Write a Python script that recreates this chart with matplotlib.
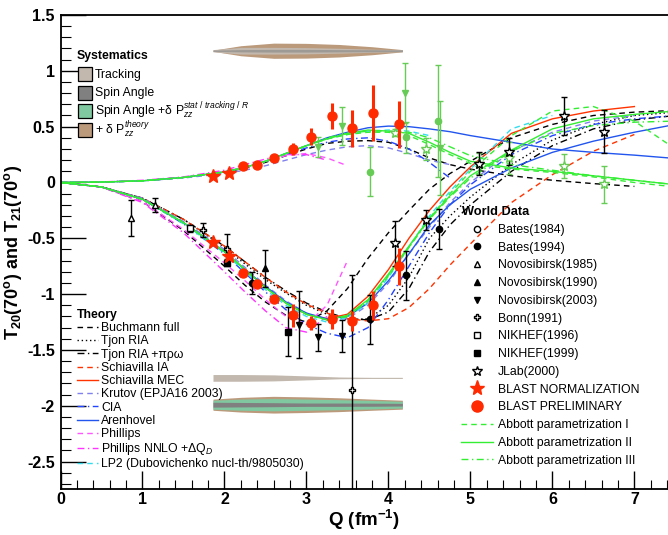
import matplotlib.pyplot as plt
import numpy as np
from matplotlib.lines import Line2D
from matplotlib.patches import Rectangle

plt.rcParams['font.family'] = 'Liberation Sans'
plt.rcParams['mathtext.fontset'] = 'custom'
plt.rcParams['mathtext.rm'] = 'Liberation Sans'
plt.rcParams['mathtext.it'] = 'Liberation Sans:italic'
plt.rcParams['mathtext.bf'] = 'Liberation Sans:bold'

nan = np.nan

# theory curves on a common Q grid
q_th = [0, 0.5, 1, 1.5, 2, 2.25, 2.5, 2.75, 3, 3.25, 3.5, 3.75, 4, 4.25, 4.5, 4.75, 5, 5.5, 6, 6.5, 7, 7.5]

buchmann_t20 = [0, -0.04, -0.17, -0.43, -0.75, -0.92, -1.07, -1.19, -1.25, -1.15, -0.95, -0.68, -0.45, -0.25, -0.06, 0.08, 0.19, 0.4, 0.52, 0.6, 0.63, 0.645]
tjon_t20 = [0, -0.04, -0.14, -0.33, -0.58, -0.73, -0.87, -0.99, -1.1, -1.18, -1.23, -1.22, -1.1, -0.85, -0.5, -0.3, -0.13, 0.16, 0.38, 0.52, 0.6, 0.63]
tjon_pro_t20 = [0, -0.04, -0.14, -0.33, -0.57, -0.71, -0.85, -0.97, -1.08, -1.16, -1.22, -1.23, -1.16, -0.95, -0.62, -0.38, -0.2, 0.1, 0.33, 0.48, 0.56, 0.6]
schiav_ia_t20 = [0, -0.04, -0.14, -0.33, -0.57, -0.71, -0.85, -0.98, -1.09, -1.17, -1.22, -1.24, -1.22, -1.12, -0.95, -0.74, -0.55, -0.18, 0.07, 0.28, 0.43, nan]
schiav_mec_t20 = [0, -0.04, -0.15, -0.36, -0.62, -0.78, -0.94, -1.08, -1.18, -1.22, -1.18, -1.02, -0.78, -0.5, -0.25, -0.04, 0.14, 0.44, 0.57, 0.64, 0.68, nan]
krutov_t20 = [0, -0.04, -0.14, -0.35, -0.6, -0.76, -0.92, -1.06, -1.17, -1.23, -1.22, -1.1, -0.9, -0.64, -0.4, -0.18, 0.0, 0.28, 0.45, 0.55, 0.6, nan]
cia_t20 = [0, -0.04, -0.15, -0.37, -0.64, -0.81, -0.98, -1.14, -1.27, -1.35, -1.39, -1.3, -1.05, -0.75, -0.45, -0.2, -0.02, 0.25, 0.42, 0.52, 0.57, 0.6]
arenhovel_t20 = [0, -0.04, -0.15, -0.36, -0.62, -0.78, -0.93, -1.07, -1.17, -1.22, -1.2, -1.08, -0.88, -0.64, -0.38, -0.2, -0.06, 0.13, 0.27, 0.37, 0.45, 0.52]
phillips_t20 = [0, -0.04, -0.17, -0.42, -0.72, -0.88, -1.05, -1.2, -1.27, -1.1, -0.7, nan, nan, nan, nan, nan, nan, nan, nan, nan, nan, nan]
phillips_nnlo_t20 = [0, -0.04, -0.18, -0.45, -0.8, -0.98, -1.15, -1.3, -1.34, -1.2, nan, nan, nan, nan, nan, nan, nan, nan, nan, nan, nan, nan]
lp2_t20 = [0, -0.04, -0.15, -0.37, -0.63, -0.8, -0.96, -1.1, -1.2, -1.25, -1.21, -1.08, -0.85, -0.58, -0.3, -0.08, 0.12, 0.48, 0.6, nan, nan, nan]
abbott1_t20 = [0, -0.04, -0.15, -0.36, -0.62, -0.78, -0.94, -1.08, -1.18, -1.23, -1.2, -1.06, -0.84, -0.58, -0.32, -0.1, 0.1, 0.42, 0.64, 0.68, 0.55, 0.3]
abbott2_t20 = [0, -0.04, -0.15, -0.36, -0.62, -0.78, -0.94, -1.08, -1.18, -1.23, -1.19, -1.05, -0.82, -0.57, -0.32, -0.12, 0.06, 0.29, 0.48, 0.57, 0.61, 0.64]
abbott3_t20 = [0, -0.04, -0.15, -0.36, -0.62, -0.78, -0.94, -1.08, -1.18, -1.23, -1.2, -1.06, -0.83, -0.58, -0.33, -0.13, 0.04, 0.28, 0.44, 0.51, 0.54, 0.55]

buchmann_t21 = [0, 0.004, 0.015, 0.045, 0.09, 0.13, 0.18, 0.24, 0.3, 0.35, 0.37, 0.375, 0.36, 0.3, 0.22, 0.16, 0.12, 0.06, 0.02, -0.01, -0.035, nan]
krutov_t21 = [0, 0.004, 0.015, 0.04, 0.08, 0.11, 0.15, 0.2, 0.25, 0.29, 0.32, 0.33, 0.31, 0.26, 0.2, 0.16, nan, nan, nan, nan, nan, nan]
cia_t21 = [0, 0.004, 0.015, 0.045, 0.095, 0.135, 0.19, 0.25, 0.31, 0.36, 0.39, 0.4, 0.37, 0.3, 0.18, 0.04, nan, nan, nan, nan, nan, nan]
arenhovel_t21 = [0, 0.004, 0.015, 0.045, 0.095, 0.135, 0.19, 0.26, 0.33, 0.4, 0.45, 0.49, 0.505, 0.5, 0.48, 0.455, 0.42, 0.36, 0.3, 0.27, 0.245, 0.215]
phillips_t21 = [0, 0.004, 0.015, 0.045, 0.095, 0.14, 0.19, 0.24, 0.26, 0.22, 0.15, nan, nan, nan, nan, nan, nan, nan, nan, nan, nan, nan]
phillips_nnlo_t21 = [0, 0.005, 0.02, 0.05, 0.11, 0.16, 0.21, 0.25, 0.25, 0.2, nan, nan, nan, nan, nan, nan, nan, nan, nan, nan, nan, nan]
lp2_t21 = [0, 0.004, 0.015, 0.045, 0.095, 0.135, 0.19, 0.26, 0.33, 0.39, 0.43, 0.46, 0.47, 0.46, 0.42, nan, nan, nan, nan, nan, nan, nan]
abbott1_t21 = [0, 0.004, 0.015, 0.045, 0.095, 0.135, 0.19, 0.26, 0.33, 0.39, 0.43, 0.45, 0.45, 0.42, 0.34, 0.25, 0.17, 0.12, 0.09, 0.05, 0.0, -0.04]
abbott2_t21 = [0, 0.004, 0.015, 0.045, 0.095, 0.135, 0.19, 0.26, 0.33, 0.39, 0.44, 0.47, 0.46, 0.44, 0.36, 0.27, 0.19, 0.13, 0.1, 0.06, 0.02, -0.02]
abbott3_t21 = [0, 0.004, 0.015, 0.045, 0.095, 0.135, 0.19, 0.26, 0.33, 0.4, 0.44, 0.46, 0.46, 0.45, 0.4, 0.32, 0.24, 0.16, 0.11, 0.06, 0.02, -0.02]

# BLAST data
blast_q = [2.22, 2.40, 2.60, 2.83, 3.06, 3.31, 3.55, 3.81, 4.13]
blast_t20 = [-0.81, -0.91, -1.04, -1.19, -1.26, -1.22, -1.24, -1.10, -0.75]
blast_t20_err = [0.02, 0.02, 0.03, 0.1, 0.06, 0.09, 0.09, 0.13, 0.165]
blast_t21 = [0.148, 0.154, 0.217, 0.30, 0.41, 0.595, 0.485, 0.62, 0.52]
blast_t21_err = [0.02, 0.02, 0.03, 0.05, 0.075, 0.115, 0.165, 0.25, 0.21]
norm_q = [1.86, 2.05]
norm_t20 = [-0.535, -0.658]
norm_t21 = [0.058, 0.088]

# world data, T20 (black)
nov85_q, nov85_t20, nov85_err = [0.86, 1.15], [-0.315, -0.2], [0.16, 0.06]
nik96_q, nik96_t20, nik96_err = [1.58], [-0.41], [0.03]
bonn_q, bonn_t20, bonn_err = [1.74, 2.03, 3.56], [-0.425, -0.595, -1.86], [0.06, 0.13, 1.03]
nik99_q, nik99_t20, nik99_err = [2.03, 2.78], [-0.718, -1.335], [0.03, 0.22]
bates94_q, bates94_t20, bates94_err = [2.33, 3.77, 4.21, 4.62], [-0.9, -1.225, -0.83, -0.42], [0.1, 0.22, 0.22, 0.18]
nov90_q, nov90_t20, nov90_err = [2.49], [-0.768], [0.165]
nov03_q, nov03_t20, nov03_err = [2.91, 3.14, 3.43], [-1.276, -1.386, -1.374], [0.3, 0.12, 0.14]
jlab_q, jlab_t20, jlab_err = [4.08, 4.46, 5.1, 5.47, 6.14, 6.63], [-0.545, -0.336, 0.17, 0.276, 0.595, 0.455], [0.2, 0.09, 0.1, 0.12, 0.17, 0.19]

# world data, T21 (green)
nov03_t21_q, nov03_t21, nov03_t21_err = [3.14, 3.43, 4.2, 4.63], [0.32, 0.51, 0.8, 0.31], [0.09, 0.17, 0.27, 0.42]
bates94_t21_q, bates94_t21, bates94_t21_err = [3.77, 4.21, 4.61], [0.097, 0.405, 0.55], [0.22, 0.14, 0.5]
jlab_t21_q, jlab_t21, jlab_t21_err = [4.08, 4.46, 5.1, 5.47, 6.14, 6.63], [0.446, 0.30, 0.17, 0.22, 0.148, -0.016], [0.03, 0.1, 0.09, 0.14, 0.11, 0.165]

# systematic error bands
band_q = [1.86, 2.2, 2.6, 3.0, 3.4, 3.8, 4.17]
top_theory = [0.005, 0.045, 0.068, 0.066, 0.056, 0.036, 0.01]
top_tracking = [0.01, 0.03, 0.03, 0.028, 0.022, 0.014, 0.009]
top_spin = [0.006, 0.01, 0.012, 0.012, 0.01, 0.009, 0.007]
trk_low = [0.03, 0.03, 0.027, 0.018, 0.008, 0.005, 0.005]
low_theory = [0.05, 0.066, 0.075, 0.07, 0.062, 0.05, 0.04]
low_green = [0.04, 0.05, 0.055, 0.05, 0.045, 0.038, 0.03]
low_spin = [0.022, 0.02, 0.018, 0.015, 0.015, 0.014, 0.012]

sys_labels = ['Tracking', 'Spin Angle',
              'Spin Angle +δ P$_{zz}^{stat\\ /\\ tracking\\ /\\ R}$',
              '+ δ P$_{zz}^{theory}$']

c_red = '#ff2a00'
c_green = '#33ee33'
c_gdata = '#66cc55'
c_trk = '#c2b8ad'
c_spin = '#808080'
c_sgreen = '#80c8a0'
c_theory = '#bb9a7c'
sys_colors = [c_trk, c_spin, c_sgreen, c_theory]

W, H = 668, 535
fig = plt.figure(figsize=(W / 100, H / 100), dpi=100)
ax = fig.add_axes([60.5 / W, 1 - 489 / H, 1 - 60.5 / W, 474 / H])

dash = (0, (4, 3))
dot = (0, (1, 2))
dashdot = (0, (5, 2.5, 1, 2.5))
theory = [
    ('Buchmann full', buchmann_t20, buchmann_t21, 'black', dash),
    ('Tjon RIA', tjon_t20, None, 'black', dot),
    ('Tjon RIA +πρω', tjon_pro_t20, None, 'black', dashdot),
    ('Schiavilla IA', schiav_ia_t20, None, '#ff3300', dash),
    ('Schiavilla MEC', schiav_mec_t20, None, '#ff3300', '-'),
    ('Krutov (EPJA16 2003)', krutov_t20, krutov_t21, '#8080ee', dash),
    ('CIA', cia_t20, cia_t21, '#2244ff', dashdot),
    ('Arenhovel', arenhovel_t20, arenhovel_t21, '#2255ee', '-'),
    ('Phillips', phillips_t20, phillips_t21, '#ff55ff', dash),
    ('Phillips NNLO +ΔQ$_{D}$', phillips_nnlo_t20, phillips_nnlo_t21, '#ff33ff', dashdot),
    ('LP2 (Dubovichenko nucl-th/9805030)', lp2_t20, lp2_t21, '#33ddee', dash),
]
theory_handles = []
for label, y20, y21, col, ls in theory:
    h, = ax.plot(q_th, y20, color=col, ls=ls, lw=1.0, label=label)
    theory_handles.append(h)
    if y21 is not None:
        ax.plot(q_th, y21, color=col, ls=ls, lw=1.0)

abbott_handles = []
for label, y20, y21, ls in [('Abbott parametrization I', abbott1_t20, abbott1_t21, dash),
                            ('Abbott parametrization II', abbott2_t20, abbott2_t21, '-'),
                            ('Abbott parametrization III', abbott3_t20, abbott3_t21, dashdot)]:
    h, = ax.plot(q_th, y20, color=c_green, ls=ls, lw=1.0, label=label)
    ax.plot(q_th, y21, color=c_green, ls=ls, lw=1.0)
    abbott_handles.append(h)

# systematics bands
bq = np.array(band_q)
ax.fill_between(bq, 1.18 - np.array(top_theory), 1.18 + np.array(top_theory), color=c_theory, lw=0)
ax.fill_between(bq, 1.18 - np.array(top_tracking), 1.18 + np.array(top_tracking), color=c_trk, lw=0)
ax.fill_between(bq, 1.18 - np.array(top_spin), 1.18 + np.array(top_spin), color=c_spin, lw=0, alpha=0.55)
ax.fill_between(bq, -1.75 - np.array(trk_low), -1.75 + np.array(trk_low), color=c_trk, lw=0)
ax.fill_between(bq, -1.99 - np.array(low_theory), -1.99 + np.array(low_theory), color=c_theory, lw=0)
ax.fill_between(bq, -1.99 - np.array(low_green), -1.99 + np.array(low_green), color=c_sgreen, lw=0)
ax.fill_between(bq, -1.99 - np.array(low_spin), -1.99 + np.array(low_spin), color=c_spin, lw=0)

# world data
def world(q, y, e, marker, color, fill, ms=4.5):
    ax.errorbar(q, y, yerr=e, fmt=marker, color=color, mfc=color if fill else 'white',
                mec=color, ms=ms, elinewidth=1.0, capsize=2, capthick=1.0, zorder=4)

world(nov03_t21_q, nov03_t21, nov03_t21_err, 'v', c_gdata, True)
world(bates94_t21_q, bates94_t21, bates94_t21_err, 'o', c_gdata, True)
world(jlab_t21_q, jlab_t21, jlab_t21_err, '*', c_gdata, False, 7)

world(nov85_q, nov85_t20, nov85_err, '^', 'black', False)
world(nik96_q, nik96_t20, nik96_err, 's', 'black', False)
world(bonn_q, bonn_t20, bonn_err, 'P', 'black', False, 5)
world(nik99_q, nik99_t20, nik99_err, 's', 'black', True)
world(bates94_q, bates94_t20, bates94_err, 'o', 'black', True)
world(nov90_q, nov90_t20, nov90_err, '^', 'black', True)
world(nov03_q, nov03_t20, nov03_err, 'v', 'black', True)
world(jlab_q, jlab_t20, jlab_err, '*', 'black', False, 7)

# BLAST
ax.errorbar(blast_q, blast_t21, yerr=blast_t21_err, fmt='o', color=c_red, ms=6.5, elinewidth=2.2, capsize=0, zorder=5)
ax.errorbar(blast_q, blast_t20, yerr=blast_t20_err, fmt='o', color=c_red, ms=6.5, elinewidth=2.2, capsize=0, zorder=5)
ax.plot(norm_q, norm_t21, '*', color=c_red, ms=10, zorder=5)
ax.plot(norm_q, norm_t20, '*', color=c_red, ms=10, zorder=5)

ax.set_xlim(0, 7.41)
ax.set_ylim(-2.745, 1.5)
ax.set_xticks(np.arange(0, 8, 1))
ax.set_xticks(np.arange(0, 7.5, 0.2), minor=True)
ax.set_yticks(np.arange(-2.5, 1.6, 0.5))
ax.set_yticks(np.arange(-2.7, 1.55, 0.1), minor=True)
ax.set_yticklabels(['-2.5', '-2', '-1.5', '-1', '-0.5', '0', '0.5', '1', '1.5'])
ax.tick_params(which='both', direction='in', top=False, right=False, labelsize=11.5)
ax.tick_params(axis='x', which='major', length=13, width=1.0, pad=2)
ax.tick_params(axis='x', which='minor', length=6.5, width=0.8)
ax.tick_params(axis='y', which='major', length=18, width=1.0, pad=4)
ax.tick_params(axis='y', which='minor', length=7, width=0.8)
for lab in ax.get_xticklabels() + ax.get_yticklabels():
    lab.set_fontweight('bold')
ax.spines['right'].set_visible(False)
for s in ['left', 'bottom', 'top']:
    ax.spines[s].set_linewidth(1.3)

ax.set_xlabel(r'$\mathbf{Q\ (fm^{-1})}$', fontsize=13.5, labelpad=1)
ax.set_ylabel(r'$\mathbf{T_{20}(70^{o})\ and\ T_{21}(70^{o})}$', fontsize=13, labelpad=2)

# systematics key, drawn by hand so the rows sit like the original
fig.text(77 / W, 1 - 55.7 / H, 'Systematics', fontsize=8.8, fontweight='bold', va='center')
for i, (col, lab) in enumerate(zip(sys_colors, sys_labels)):
    yc = [74, 92.7, 110.7, 130][i]
    fig.add_artist(Rectangle((78.3 / W, 1 - (yc + 7) / H), 14 / W, 14 / H, transform=fig.transFigure,
                             facecolor=col, edgecolor='black', lw=0.9))
    fig.text(95 / W, 1 - (yc + 3.8) / H, lab, fontsize=8.8, va='baseline')

leg2 = fig.legend(theory_handles, [t[0] for t in theory], loc='upper left',
                  bbox_to_anchor=(77 / W, 1 - 309 / H), frameon=False, fontsize=8.8,
                  title='Theory', alignment='left', title_fontproperties={'weight': 'bold', 'size': 8.8},
                  handlelength=1.75, handletextpad=0.25, labelspacing=0.1, borderpad=0, borderaxespad=0)

def mk(marker, fill, color='black', ms=4.5):
    return Line2D([], [], ls='none', marker=marker, color=color, mfc=color if fill else 'white', mec=color, ms=ms)

wd_handles = [mk('o', False), mk('o', True), mk('^', False), mk('^', True), mk('v', True),
              mk('P', False, ms=5), mk('s', False), mk('s', True), mk('*', False, ms=7),
              mk('*', True, c_red, 11), mk('o', True, c_red, 8)] + abbott_handles
wd_labels = ['Bates(1984)', 'Bates(1994)', 'Novosibirsk(1985)', 'Novosibirsk(1990)',
             'Novosibirsk(2003)', 'Bonn(1991)', 'NIKHEF(1996)', 'NIKHEF(1999)', 'JLab(2000)',
             'BLAST NORMALIZATION', 'BLAST PRELIMINARY',
             'Abbott parametrization I', 'Abbott parametrization II', 'Abbott parametrization III']
fig.text(462 / W, 1 - 211.7 / H, 'World Data', fontsize=9.2, fontweight='bold', va='center')
leg3 = fig.legend(wd_handles, wd_labels, loc='upper left', bbox_to_anchor=(461 / W, 1 - 224 / H),
                  frameon=False, fontsize=8.8,
                  handlelength=2.6, handletextpad=0.4, labelspacing=0.47, borderpad=0, borderaxespad=0)

fig.savefig('out.png', dpi=100)
